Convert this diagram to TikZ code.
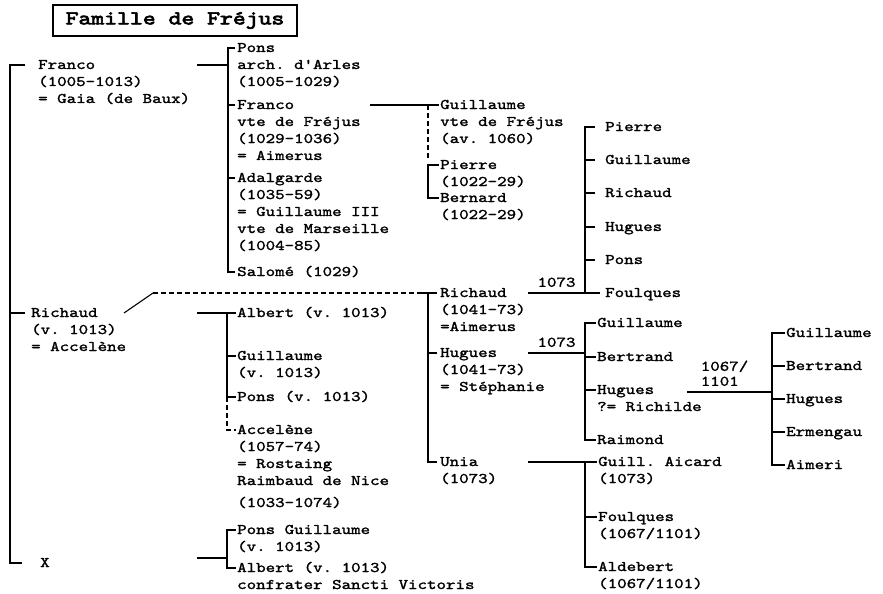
\documentclass[tikz,border=0pt]{standalone}
\usepackage{fontspec}
\usepackage{tikz}
\newfontfamily\famfont{lmmono10-regular.otf}[FakeStretch=1.23,FakeBold=1.6]
\newfontfamily\famtitle{lmmono10-regular.otf}[FakeStretch=1.25,FakeBold=3.5]
\newcommand\famtab[1]{\begin{tabular}[t]{@{}l@{}}#1\end{tabular}}
\frenchspacing
\tikzset{
  pers/.style={anchor=base west, inner sep=0pt, font=\famfont\fontsize{14.7}{17}\selectfont},
  link/.style={line width=1.1pt},
  dotlink/.style={link, dash pattern=on 5pt off 3pt},
  year/.style={above, inner sep=5.5pt, align=left, font=\famfont\fontsize{14.7}{15}\selectfont}
}

\begin{document}
\begin{tikzpicture}[x=1pt,y=-1pt]
\useasboundingbox (0,0) rectangle (883,594);
\node[draw, line width=1.4pt, minimum width=244pt, minimum height=31pt, inner sep=0pt, font=\famtitle\fontsize{19.6}{24}\selectfont] (title) at (175,20.5) {Famille de Fréjus};

\node[pers] (franco) at (38,69) {\famtab{Franco\\(1005-1013)\\= Gaia (de Baux)}};
\node[pers] (richaud) at (31,317) {\famtab{Richaud\\(v. 1013)\\= Accelène}};
\node[pers] (x) at (40,567) {X};

\node[pers] (pons) at (237,52) {\famtab{Pons\\arch. d'Arles\\(1005-1029)}};
\node[pers] (franco2) at (237,109) {\famtab{Franco\\vte de Fréjus\\(1029-1036)\\= Aimerus}};
\node[pers] (adal) at (237,182) {\famtab{Adalgarde\\(1035-59)\\= Guillaume III\\vte de Marseille\\(1004-85)}};
\node[pers] (salome) at (237,276) {Salomé (1029)};
\node[pers] (albert) at (237,317) {Albert (v. 1013)};
\node[pers] (guill1) at (237,360) {\famtab{Guillaume\\(v. 1013)}};
\node[pers] (pons2) at (237,401) {Pons (v. 1013)};
\node[pers] (accel) at (237,434) {\famtab{Accelène\\(1057-74)\\= Rostaing\\Raimbaud de Nice\\[5pt](1033-1074)}};
\node[pers] (ponsg) at (237,534) {\famtab{Pons Guillaume\\(v. 1013)}};
\node[pers] (albert2) at (237,572) {\famtab{Albert (v. 1013)\\confrater Sancti Victoris}};

\node[pers] (guill2) at (440,109) {\famtab{Guillaume\\vte de Fréjus\\(av. 1060)}};
\node[pers] (pierre) at (440,169) {\famtab{Pierre\\(1022-29)}};
\node[pers] (bernard) at (440,202) {\famtab{Bernard\\(1022-29)}};
\node[pers] (richaud2) at (440,297) {\famtab{Richaud\\(1041-73)\\=Aimerus}};
\node[pers] (hugues) at (440,357) {\famtab{Hugues\\(1041-73)\\= Stéphanie}};
\node[pers] (unia) at (440,466) {\famtab{Unia\\(1073)}};

\node[pers] (pierre3) at (605,131) {Pierre};
\node[pers] (guill3) at (605,164) {Guillaume};
\node[pers] (richaud3) at (605,197) {Richaud};
\node[pers] (hugues3) at (605,231) {Hugues};
\node[pers] (pons3) at (605,264) {Pons};
\node[pers] (foulq3) at (605,297) {Foulques};

\node[pers] (guill4) at (597,327) {Guillaume};
\node[pers] (bertr4) at (597,361) {Bertrand};
\node[pers] (hugues4) at (597,394) {\famtab{Hugues\\?= Richilde}};
\node[pers] (raim4) at (597,444) {Raimond};

\node[pers] (aicard) at (598,466) {\famtab{Guill. Aicard\\(1073)}};
\node[pers] (foulq4) at (598,521) {\famtab{Foulques\\(1067/1101)}};
\node[pers] (aldeb) at (598,571) {\famtab{Aldebert\\(1067/1101)}};

\node[pers] (guill5) at (786,337) {Guillaume};
\node[pers] (bertr5) at (786,370) {Bertrand};
\node[pers] (hugues5) at (786,403) {Hugues};
\node[pers] (ermen5) at (786,436) {Ermengau};
\node[pers] (aimeri5) at (786,469) {Aimeri};

\draw[link] ([xshift=-13pt,yshift=4pt]franco.base west) -| ([xshift=-30pt,yshift=4pt]x.base west) -- ([xshift=-18pt,yshift=4pt]x.base west);
\draw[link] ([xshift=-6pt,yshift=4pt]richaud.base west) -- ++(-15,0);

\draw[link] ([xshift=159pt,yshift=4pt]franco.base west) -- ++(31,0);
\draw[link] ([xshift=-2pt,yshift=4pt]pons.base west) -| ([xshift=-9pt,yshift=4pt]salome.base west) -- ([xshift=-2pt,yshift=4pt]salome.base west);
\draw[link] ([xshift=-2pt,yshift=4pt]franco2.base west) -- ++(-7,0);
\draw[link] ([xshift=-2pt,yshift=4pt]adal.base west) -- ++(-7,0);

\draw[link] ([xshift=166pt,yshift=4pt]richaud.base west) -- ([xshift=-1pt,yshift=4pt]albert.base west);
\draw[link] ([xshift=-10pt,yshift=4pt]albert.base west) -- ([xshift=-10pt,yshift=4pt]pons2.base west) -- ++(9,0);
\draw[link] ([xshift=-1pt,yshift=4pt]guill1.base west) -- ++(-9,0);
\draw[dotlink] ([xshift=-10pt,yshift=4pt]pons2.base west) |- ([xshift=-1pt,yshift=4pt]accel.base west);

\draw[link] ([xshift=157pt,yshift=9pt]x.base west) -- ++(30,0);
\draw[link] ([xshift=-1pt,yshift=4pt]ponsg.base west) -| ([xshift=-10pt,yshift=4pt]albert2.base west) -- ([xshift=-1pt,yshift=4pt]albert2.base west);

\draw[link] ([xshift=133pt,yshift=4pt]franco2.base west) -- ([xshift=-1pt,yshift=4pt]guill2.base west);
\draw[dotlink] ([xshift=-12pt,yshift=4pt]guill2.base west) -- ([xshift=-12pt,yshift=10pt]pierre.base west);
\draw[link] ([xshift=-1pt,yshift=4pt]pierre.base west) -| ([xshift=-12pt,yshift=4pt]bernard.base west) -- ([xshift=-1pt,yshift=4pt]bernard.base west);

\draw[link] ([xshift=93pt,yshift=4pt]richaud.base west) -- ++(29,-20) coordinate (kink);
\draw[dotlink] (kink) -- ([xshift=-20pt,yshift=4pt]richaud2.base west);
\draw[link] ([xshift=-20pt,yshift=4pt]richaud2.base west) -- ([xshift=-3pt,yshift=4pt]richaud2.base west);
\draw[link] ([xshift=-12pt,yshift=4pt]richaud2.base west) |- ([xshift=-3pt,yshift=4pt]unia.base west);
\draw[link] ([xshift=-3pt,yshift=4pt]hugues.base west) -- ++(-9,0);

\draw[link] ([xshift=-10pt,yshift=4pt]pierre3.base west) -| ([xshift=-20pt,yshift=4pt]foulq3.base west) -- ([xshift=-5pt,yshift=4pt]foulq3.base west);
\foreach \n in {guill3,richaud3,hugues3,pons3}
  \draw[link] ([xshift=-10pt,yshift=4pt]\n.base west) -- ++(-10,0);
\draw[link] ([xshift=-20pt,yshift=4pt]foulq3.base west) -- node[year]{1073} ++(-57,0);

\draw[link] ([xshift=88pt,yshift=4pt]hugues.base west) -- node[year]{1073} ++(57,0);
\draw[link] ([xshift=-1pt,yshift=4pt]guill4.base west) -| ([xshift=-12pt,yshift=4pt]raim4.base west) -- ([xshift=-1pt,yshift=4pt]raim4.base west);
\foreach \n in {bertr4,hugues4}
  \draw[link] ([xshift=-1pt,yshift=4pt]\n.base west) -- ++(-11,0);

\draw[link] ([xshift=88pt,yshift=4pt]unia.base west) -- ([xshift=-1pt,yshift=4pt]aicard.base west);
\draw[link] ([xshift=-13pt,yshift=4pt]aicard.base west) |- ([xshift=-1pt,yshift=4pt]aldeb.base west);
\draw[link] ([xshift=-1pt,yshift=4pt]foulq4.base west) -- ++(-12,0);

\draw[link] ([xshift=90pt,yshift=2pt]hugues4.base west) -- node[year, xshift=-5pt]{1067/\\1101} ++(85,0);
\draw[link] ([xshift=-1pt,yshift=4pt]guill5.base west) -| ([xshift=-14pt,yshift=4pt]aimeri5.base west) -- ([xshift=-1pt,yshift=4pt]aimeri5.base west);
\foreach \n in {bertr5,hugues5,ermen5}
  \draw[link] ([xshift=-1pt,yshift=4pt]\n.base west) -- ++(-13,0);
\end{tikzpicture}
\end{document}
